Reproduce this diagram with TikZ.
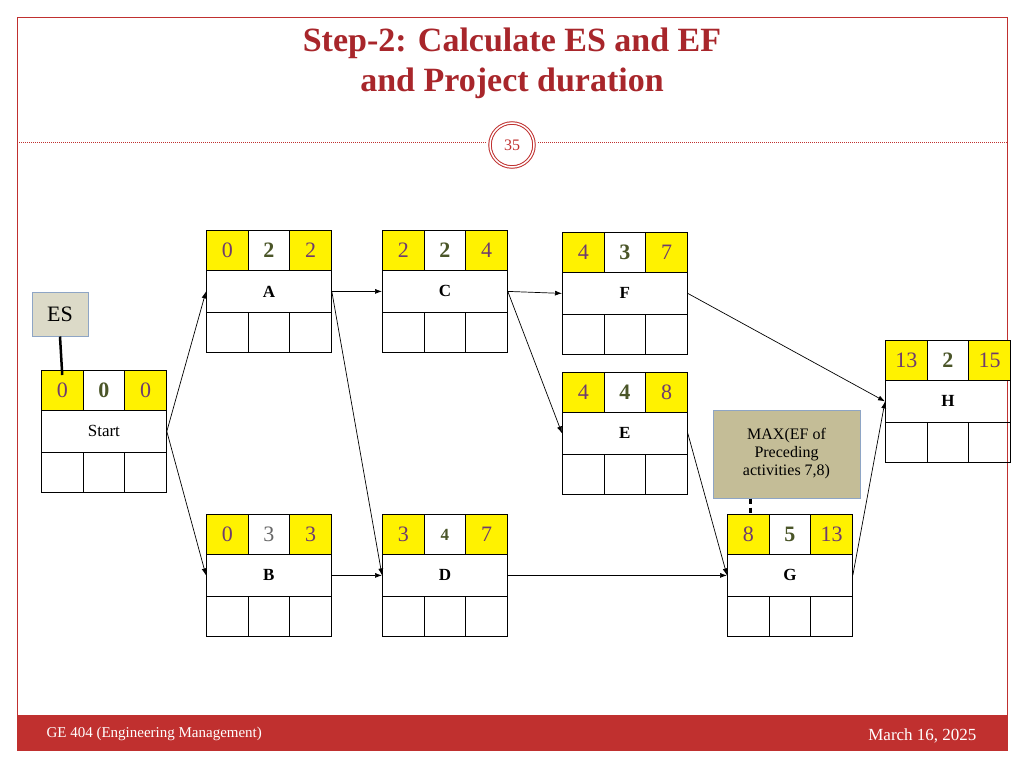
\documentclass[tikz,border=0pt]{standalone}
\usepackage{fontspec}
\setmainfont{Liberation Serif}
\usetikzlibrary{arrows.meta,positioning}
\definecolor{red1}{HTML}{C0302F}
\definecolor{titlered}{HTML}{A8262B}
\definecolor{numc}{HTML}{6E3B6E}
\definecolor{midc}{HTML}{4A5528}
\definecolor{esfill}{HTML}{DCDAC8}
\definecolor{maxfill}{HTML}{C4BD97}
\definecolor{bluebd}{HTML}{8EA5C5}
\tikzset{
 cell/.style={draw,line width=0.8pt,minimum width=41.7pt,minimum height=40pt,inner sep=0pt,anchor=north west},
 ycell/.style={cell,fill=yellow,font=\fontsize{22}{22}\selectfont,text=numc},
 mcell/.style={cell,fill=white,font=\bfseries\fontsize{22}{22}\selectfont,text=midc},
 lab/.style={draw,line width=0.8pt,minimum width=125pt,minimum height=42pt,inner sep=0pt,anchor=north west,font=\bfseries\fontsize{17}{17}\selectfont},
 conn/.style={-{Latex[length=7pt,width=5pt]},line width=0.7pt}
}
\newcommand\actbox[7]{%
 \node[ycell] (#1es) at (#2,#3) {#4};
 \node[mcell] (#1du) at (#2+41.7,#3) {#5};
 \node[ycell] (#1ef) at (#2+83.3,#3) {#6};
 \node[lab] (#1) at (#2,#3+40) {#7};
 \node[cell,minimum height=40pt] (#1b1) at (#2,#3+82) {};
 \node[cell,minimum height=40pt] (#1b2) at (#2+41.7,#3+82) {};
 \node[cell,minimum height=40pt] (#1b3) at (#2+83.3,#3+82) {};
}
\begin{document}
\begin{tikzpicture}[x=1pt,y=-1pt]
\useasboundingbox (0,0) rectangle (1024,768);
\fill[white] (0,0) rectangle (1024,768);
\draw[red1,line width=0.8pt] (17,17) rectangle (1007,750);
\fill[red1] (17,715) rectangle (1007,750);
\node[font=\bfseries\fontsize{34}{40}\selectfont,text=titlered,align=center] (title) at (512,63) {Step-2: Calculate ES and EF\\and Project duration};
\draw[red1,dashed,dash pattern=on 1pt off 1pt,line width=0.6pt] (17,142) -- (486,142);
\draw[red1,dashed,dash pattern=on 1pt off 1pt,line width=0.6pt] (538,142) -- (1007,142);
\node[circle,draw=red1,double=white,double distance=1.5pt,line width=1pt,minimum size=44pt,inner sep=0pt,text=red1,font=\fontsize{16}{16}\selectfont] (pg) at (512,145) {35};
\node[text=white,font=\fontsize{15}{15}\selectfont,anchor=west] (foot1) at (43,734) {GE 404 (Engineering Management)};
\node[text=white,font=\fontsize{17}{17}\selectfont,anchor=east] (foot2) at (980,736) {March 16, 2025};
\actbox{S}{41}{370}{0}{0}{0}{\mdseries Start}
\actbox{A}{206}{230}{0}{2}{2}{A}
\actbox{C}{382}{230}{2}{2}{4}{C}
\actbox{F}{562}{232}{4}{3}{7}{F}
\actbox{E}{562}{372}{4}{4}{8}{E}
\actbox{H}{885}{340}{13}{2}{15}{H}
\actbox{B}{206}{514}{0}{\mdseries\color{gray!80!black}3}{3}{B}
\actbox{D}{382}{514}{3}{\fontsize{17}{17}\selectfont 4}{7}{D}
\actbox{G}{727}{514}{8}{5}{13}{G}
\node[draw=bluebd,fill=esfill,line width=1pt,minimum width=56pt,minimum height=44pt,font=\fontsize{22}{22}\selectfont] (es) at (60,314) {ES};
\draw[line width=2.5pt] (es.south) -- ([yshift=-5pt]Ses.north);
\node[draw=bluebd,fill=maxfill,line width=1pt,minimum width=147pt,minimum height=88pt,align=center,font=\fontsize{16}{18}\selectfont] (mx) at (786.5,454) {MAX(EF of\\Preceding\\activities 7,8)};
\draw[line width=2.5pt,dashed,dash pattern=on 5pt off 4pt] ([xshift=-36pt]mx.south) -- ([xshift=-36pt]mx.south |- Ges.north);
\draw[conn] (S.east) -- (A.west);
\draw[conn] (S.east) -- (B.west);
\draw[conn] (A.east) -- (C.west);
\draw[conn] (A.east) -- (D.west);
\draw[conn] (C.east) -- (F.west);
\draw[conn] (C.east) -- (E.west);
\draw[conn] (B.east) -- (D.west);
\draw[conn] (D.east) -- (G.west);
\draw[conn] (F.east) -- (H.west);
\draw[conn] (E.east) -- (G.west);
\draw[conn] (G.east) -- (H.west);
\end{tikzpicture}
\end{document}
